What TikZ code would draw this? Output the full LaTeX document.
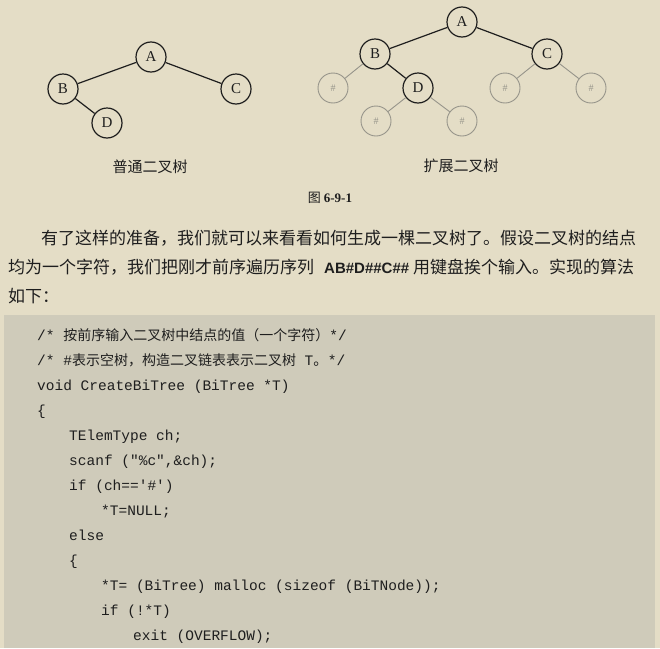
\documentclass[tikz,border=0pt]{standalone}
\usepackage{fontspec}
\setmainfont{Liberation Serif}
\setmonofont{Liberation Mono}
\newfontfamily\cjk{Noto Sans CJK SC}
\newfontfamily\latinsans{Liberation Sans}
\usetikzlibrary{positioning}
\definecolor{paper}{RGB}{228,221,198}
\definecolor{codebg}{RGB}{207,203,186}
\definecolor{ink}{RGB}{30,30,30}
\definecolor{ghost}{RGB}{150,148,138}
\tikzset{
  tnode/.style={circle, draw=ink, line width=1.2pt, minimum size=30pt, inner sep=0pt,
    text=ink, font=\fontsize{15}{15}\selectfont},
  enode/.style={circle, draw=ghost, line width=0.9pt, minimum size=30pt, inner sep=0pt,
    text=ghost, font=\fontsize{10}{10}\selectfont},
  tedge/.style={draw=ink, line width=1.2pt},
  eedge/.style={draw=ghost, line width=0.9pt},
  para/.style={anchor=west, inner sep=0pt, text=ink, text height=13pt, text depth=4pt,
    font=\cjk\fontsize{17}{17}\selectfont},
  code/.style={anchor=west, inner sep=0pt, text=ink, text height=10pt, text depth=3pt,
    font=\ttfamily\fontsize{14.5}{14.5}\selectfont},
}

\begin{document}
\begin{tikzpicture}[x=1pt, y=-1pt]
    \path[use as bounding box, fill=paper] (0,0) rectangle (660,648);
    \fill[codebg] (4,315) rectangle (655,648);
    % ordinary tree
    \node [tnode](lA) at (151,57) {A};
    \node [tnode](lB) at (63,89) {B};
    \node [tnode](lC) at (236,89) {C};
    \node [tnode](lD) at (107,123) {D};
    \draw [tedge] (lA)--(lB) ;
    \draw [tedge] (lA)--(lC) ;
    \draw [tedge] (lB)--(lD) ;
    \node [text=ink, font=\cjk\fontsize{15}{15}\selectfont](lname) at (150,167) {普通二叉树};
    % extended tree
    \node [tnode](rA) at (462,22) {A};
    \node [tnode](rB) at (375,54) {B};
    \node [tnode](rC) at (547,54) {C};
    \node [tnode](rD) at (418,88) {D};
    \node [enode](rB0) at (333,88) {\#};
    \node [enode](rD0) at (376,121) {\#};
    \node [enode](rD1) at (462,121) {\#};
    \node [enode](rC0) at (505,88) {\#};
    \node [enode](rC1) at (591,88) {\#};
    \draw [tedge] (rA)--(rB) ;
    \draw [tedge] (rA)--(rC) ;
    \draw [tedge] (rB)--(rD) ;
    \draw [eedge] (rB)--(rB0) ;
    \draw [eedge] (rD)--(rD0) ;
    \draw [eedge] (rD)--(rD1) ;
    \draw [eedge] (rC)--(rC0) ;
    \draw [eedge] (rC)--(rC1) ;
    \node [text=ink, font=\cjk\fontsize{15}{15}\selectfont](rname) at (461,166) {扩展二叉树};
    \node [text=ink, font=\cjk\fontsize{13}{13}\selectfont](fig) at (330,198) {图 {\rmfamily\bfseries 6-9-1}};
    % text
    \node [para](p1) at (41,240) {有了这样的准备，我们就可以来看看如何生成一棵二叉树了。假设二叉树的结点};
    \node [para](p2) at (8,269) {均为一个字符，我们把刚才前序遍历序列\hspace{10pt}{\latinsans\bfseries\fontsize{15}{15}\selectfont AB\#D\#\#C\#\#}\hspace{4pt}用键盘挨个输入。实现的算法};
    \node [para](p3) at (8,298) {如下：};
    % code
    \node [code](c1) at (37,337) {/* {\cjk\fontsize{14}{14}\selectfont 按前序输入二叉树中结点的值（一个字符）}*/};
    \node [code](c2) at (37,362) {/* \#{\cjk\fontsize{14}{14}\selectfont 表示空树，构造二叉链表表示二叉树} T{\cjk 。}*/};
    \node [code](c3) at (37,387) {void CreateBiTree (BiTree *T)};
    \node [code](c4) at (37,412) {\{};
    \node [code](c5) at (69,437) {TElemType ch;};
    \node [code](c6) at (69,462) {scanf ("\%c",\&ch);};
    \node [code](c7) at (69,487) {if (ch=='\#')};
    \node [code](c8) at (101,512) {*T=NULL;};
    \node [code](c9) at (69,537) {else};
    \node [code](c10) at (69,562) {\{};
    \node [code](c11) at (101,587) {*T= (BiTree) malloc (sizeof (BiTNode));};
    \node [code](c12) at (101,612) {if (!*T)};
    \node [code](c13) at (133,637) {exit (OVERFLOW);};
\end{tikzpicture}
\end{document}
